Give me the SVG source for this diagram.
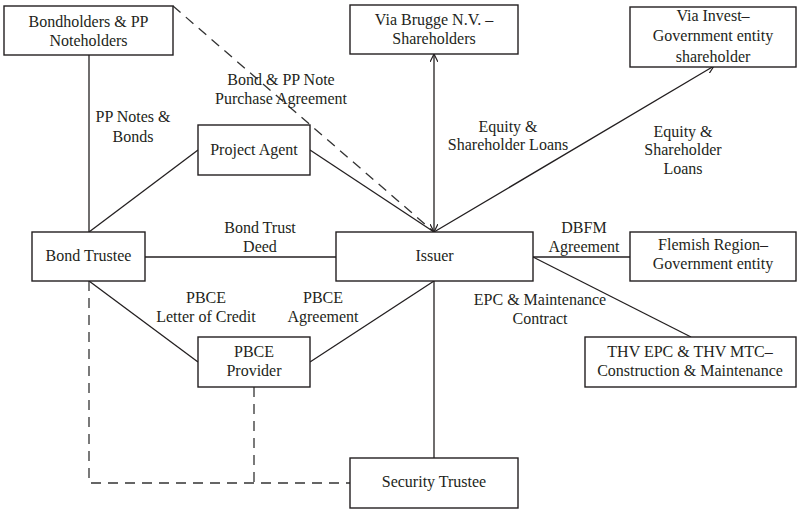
<svg xmlns="http://www.w3.org/2000/svg" width="797" height="511" viewBox="0 0 797 511">
  <style>
    .box { fill: #ffffff; stroke: #231f20; stroke-width: 1.4; }
    .ln { fill: none; stroke: #231f20; stroke-width: 1.3; }
    .dash { fill: none; stroke: #333333; stroke-width: 1.3; stroke-dasharray: 10 7; }
    text { font-family: "Liberation Serif", "Times New Roman", serif; font-size: 16px; fill: #231f20; text-anchor: middle; }
  </style>
  <defs>
    <marker id="open-arrow" viewBox="0 0 10 10" refX="10" refY="5" markerWidth="8" markerHeight="8" markerUnits="userSpaceOnUse" orient="auto-start-reverse">
      <path d="M0,0 L10,5 L0,10" fill="none" stroke="#231f20" stroke-width="1.5"/>
    </marker>
  </defs>

  <!-- connectors -->
  <g id="connectors">
    <line class="ln" x1="89" y1="55" x2="89" y2="232"/>
    <line class="dash" x1="173" y1="6" x2="434" y2="232"/>
    <line class="ln" x1="198" y1="150" x2="89" y2="232"/>
    <line class="ln" x1="310" y1="150" x2="434" y2="232"/>
    <line class="ln" x1="434" y1="54" x2="434" y2="232" marker-start="url(#open-arrow)" marker-end="url(#open-arrow)"/>
    <line class="ln" x1="434" y1="232" x2="714" y2="66" marker-end="url(#open-arrow)"/>
    <line class="ln" x1="145" y1="257" x2="336" y2="257"/>
    <line class="ln" x1="89" y1="281" x2="198" y2="362"/>
    <line class="ln" x1="310" y1="362" x2="434" y2="281"/>
    <line class="ln" x1="434" y1="281" x2="434" y2="458"/>
    <line class="ln" x1="533" y1="257" x2="630" y2="257"/>
    <line class="ln" x1="533" y1="257" x2="691" y2="337"/>
    <polyline class="dash" points="89,281 89,483 350,483"/>
    <line class="dash" x1="254" y1="387" x2="254" y2="483"/>
  </g>

  <!-- connector labels -->
  <g id="labels">
    <text x="133" y="122">PP Notes &amp;</text>
    <text x="133" y="142">Bonds</text>
    <text x="281" y="85">Bond &amp; PP Note</text>
    <text x="281" y="104">Purchase Agreement</text>
    <text x="508" y="132">Equity &amp;</text>
    <text x="508" y="150">Shareholder Loans</text>
    <text x="683" y="137">Equity &amp;</text>
    <text x="683" y="155">Shareholder</text>
    <text x="683" y="174">Loans</text>
    <text x="260" y="233">Bond Trust</text>
    <text x="260" y="252">Deed</text>
    <text x="584" y="233">DBFM</text>
    <text x="584" y="252">Agreement</text>
    <text x="206" y="303">PBCE</text>
    <text x="206" y="322">Letter of Credit</text>
    <text x="323" y="303">PBCE</text>
    <text x="323" y="322">Agreement</text>
    <text x="540" y="305">EPC &amp; Maintenance</text>
    <text x="540" y="324">Contract</text>
  </g>

  <!-- nodes -->
  <g id="bondholders">
    <rect class="box" x="4" y="6" width="169" height="49"/>
    <text x="88.5" y="27">Bondholders &amp; PP</text>
    <text x="88.5" y="46">Noteholders</text>
  </g>
  <g id="via-brugge">
    <rect class="box" x="350" y="5" width="168" height="49"/>
    <text x="434" y="25">Via Brugge N.V. –</text>
    <text x="434" y="44">Shareholders</text>
  </g>
  <g id="via-invest">
    <rect class="box" x="630" y="7" width="166" height="60"/>
    <text x="713" y="21">Via Invest–</text>
    <text x="713" y="41">Government entity</text>
    <text x="713" y="62">shareholder</text>
  </g>
  <g id="project-agent">
    <rect class="box" x="198" y="125" width="112" height="50"/>
    <text x="254" y="155">Project Agent</text>
  </g>
  <g id="bond-trustee">
    <rect class="box" x="32" y="232" width="113" height="49"/>
    <text x="88.5" y="261">Bond Trustee</text>
  </g>
  <g id="issuer">
    <rect class="box" x="336" y="232" width="197" height="49"/>
    <text x="434.5" y="261">Issuer</text>
  </g>
  <g id="flemish-region">
    <rect class="box" x="630" y="232" width="166" height="49"/>
    <text x="713" y="250">Flemish Region–</text>
    <text x="713" y="269">Government entity</text>
  </g>
  <g id="pbce-provider">
    <rect class="box" x="198" y="337" width="112" height="50"/>
    <text x="254" y="357">PBCE</text>
    <text x="254" y="376">Provider</text>
  </g>
  <g id="thv">
    <rect class="box" x="585" y="337" width="211" height="50"/>
    <text x="690" y="357">THV EPC &amp; THV MTC–</text>
    <text x="690" y="376">Construction &amp; Maintenance</text>
  </g>
  <g id="security-trustee">
    <rect class="box" x="350" y="458" width="168" height="50"/>
    <text x="434" y="487">Security Trustee</text>
  </g>
</svg>
